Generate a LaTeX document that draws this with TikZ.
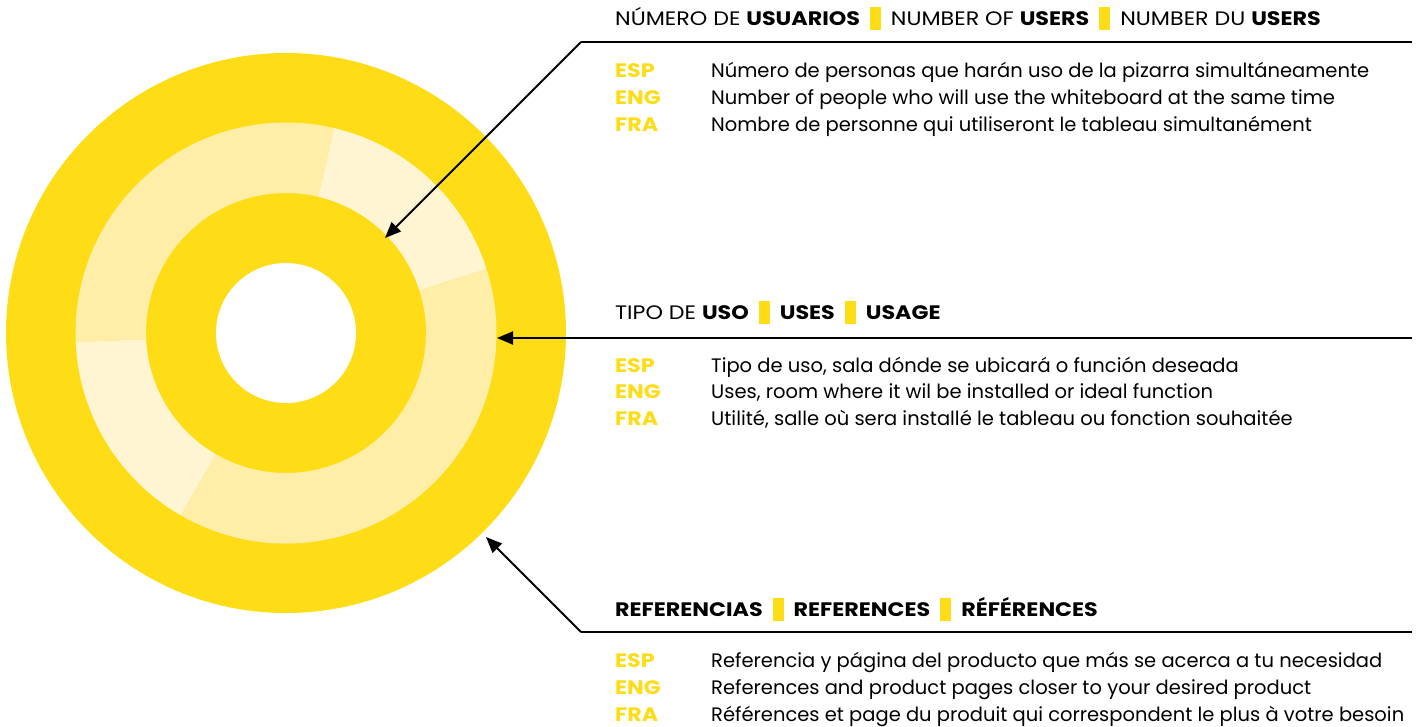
\documentclass[tikz,border=0pt]{standalone}
\usepackage{fontspec}
\setmainfont{Poppins}
\newfontfamily\capsfont[FakeStretch=1.14]{Poppins}
\usetikzlibrary{arrows.meta,positioning}
\definecolor{gold}{HTML}{FEDC16}
\definecolor{paleA}{HTML}{FEEEA7}
\definecolor{paleB}{HTML}{FFF5D2}
\newcommand{\sepbar}{\hspace{10pt}\textcolor{gold}{\rule[-5pt]{11pt}{23pt}}\hspace{10pt}}
\tikzset{%
	title/.style    = {anchor=base west, inner sep=0pt, font=\fontsize{19.5}{22}\selectfont\capsfont},
	lang/.style     = {anchor=base west, inner sep=0pt, text=gold, font=\fontsize{19.5}{22}\selectfont\capsfont\bfseries},
	desc/.style     = {anchor=base west, inner sep=0pt, font=\fontsize{19.5}{22}\selectfont},
	headline/.style = {line width=2pt},
	pointer/.style  = {line width=2pt, -{Triangle[length=16pt,width=13pt]}},
}

\begin{document}
\begin{tikzpicture}[x=1pt,y=1pt]
	\useasboundingbox (0,0) rectangle (1427,-726);
	% rings
	\coordinate (c) at (286,-333);
	\fill[gold] (c) circle[radius=280];
	\foreach \col/\a/\b in {paleB/17.7/76.8, paleA/76.8/182.5, paleB/182.5/240, paleA/240/377.7}
		\fill[\col] ([shift={(\a:210.5)}]c) arc[start angle=\a, end angle=\b, radius=210.5]
			-- ([shift={(\b:140)}]c) arc[start angle=\b, end angle=\a, radius=140] -- cycle;
	\fill[white] (c) circle[radius=70];
	% users
	\node[title] (users) at (615,-25) {NÚMERO DE \textbf{USUARIOS}\sepbar NUMBER OF \textbf{USERS}\sepbar NUMBER DU \textbf{USERS}};
	\node[lang] (esp1) at (615,-77) {ESP};
	\node[lang] (eng1) at (615,-104) {ENG};
	\node[lang] (fra1) at (615,-131) {FRA};
	\node[desc] (desp1) at (711,-77) {Número de personas que harán uso de la pizarra simultáneamente};
	\node[desc] (deng1) at (711,-104) {Number of people who will use the whiteboard at the same time};
	\node[desc] (dfra1) at (711,-131) {Nombre de personne qui utiliseront le tableau simultanément};
	% uses
	\node[title] (uses) at (615,-319) {TIPO DE \textbf{USO}\sepbar\textbf{USES}\sepbar\textbf{USAGE}};
	\node[lang] (esp2) at (615,-372) {ESP};
	\node[lang] (eng2) at (615,-398) {ENG};
	\node[lang] (fra2) at (615,-425) {FRA};
	\node[desc] (desp2) at (711,-372) {Tipo de uso, sala dónde se ubicará o función deseada};
	\node[desc] (deng2) at (711,-398) {Uses, room where it wil be installed or ideal function};
	\node[desc] (dfra2) at (711,-425) {Utilité, salle où sera installé le tableau ou fonction souhaitée};
	% references
	\node[title] (refs) at (615,-616) {\textbf{REFERENCIAS}\sepbar\textbf{REFERENCES}\sepbar\textbf{RÉFÉRENCES}};
	\node[lang] (esp3) at (615,-667) {ESP};
	\node[lang] (eng3) at (615,-694) {ENG};
	\node[lang] (fra3) at (615,-721) {FRA};
	\node[desc] (desp3) at (711,-667) {Referencia y página del producto que más se acerca a tu necesidad};
	\node[desc] (deng3) at (711,-694) {References and product pages closer to your desired product};
	\node[desc] (dfra3) at (711,-721) {Références et page du produit qui correspondent le plus à votre besoin};
	% pointers
	\coordinate (k1) at (581,-42);  \coordinate (e1) at (1412,-42);  \coordinate (t1) at (385,-238);
	\coordinate (e2) at (1412,-338); \coordinate (t2) at (497,-338);
	\coordinate (k3) at (581,-632); \coordinate (e3) at (1412,-632); \coordinate (t3) at (486,-537);
	\draw[headline] (e1) -- (k1);
	\draw[pointer] (k1) -- (t1);
	\draw[pointer] (e2) -- (t2);
	\draw[headline] (e3) -- (k3);
	\draw[pointer] (k3) -- (t3);
\end{tikzpicture}
\end{document}
